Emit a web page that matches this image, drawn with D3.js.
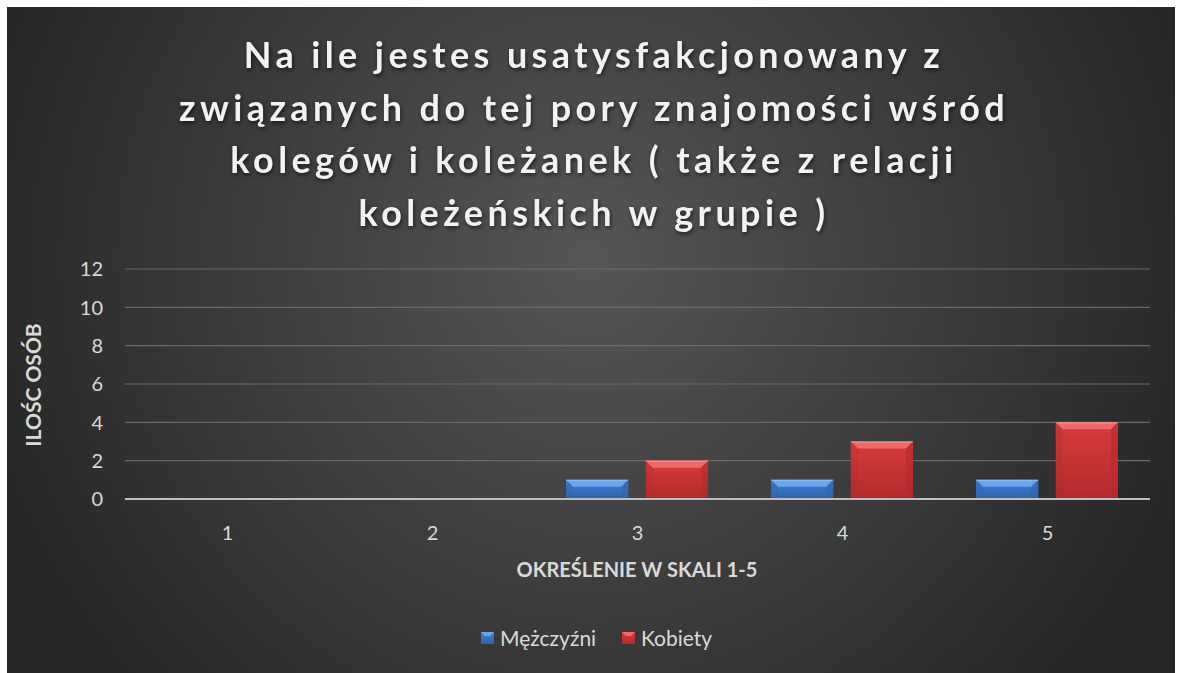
<!DOCTYPE html>
<html>
<head>
<meta charset="utf-8">
<script src="https://cdn.jsdelivr.net/npm/d3@7/dist/d3.min.js"></script>
<style>
  html, body { margin: 0; padding: 0; background: #fff; }
  svg { display: block; }
</style>
</head>
<body>
<div id="chart"></div>
<script>
// ----- Data -----
const categories = ["1", "2", "3", "4", "5"];
const seriesNames = ["Mężczyźni", "Kobiety"];
const men   = [0, 0, 1, 1, 1];
const women = [0, 0, 2, 3, 4];
const yTicks = [0, 2, 4, 6, 8, 10, 12];
const titleLines = [
  "Na ile jestes usatysfakcjonowany z",
  "związanych do tej pory znajomości wśród",
  "kolegów i koleżanek ( także z relacji",
  "koleżeńskich w grupie )"
];

const W = 1182, H = 673;
const margin = { top: 269, left: 125 };
const innerW = 1150 - margin.left;
const innerH = 499 - margin.top;
const FONT = "Lato, 'Open Sans', sans-serif";
const TXT = "#d9d9d9";

const svg = d3.select("#chart").append("svg")
  .attr("width", W).attr("height", H);

const defs = svg.append("defs");

const bg = defs.append("radialGradient")
  .attr("id", "bg").attr("gradientUnits", "userSpaceOnUse")
  .attr("cx", 590).attr("cy", 260).attr("r", 640);
bg.append("stop").attr("offset", "0%").attr("stop-color", "#565656");
bg.append("stop").attr("offset", "100%").attr("stop-color", "#262626");

const palette = {
  "Mężczyźni": { top: "#6aa6ee", base: "#3f80d2", dark: "#2f64ad", edge: "#8fc0f6" },
  "Kobiety":   { top: "#ee6a6a", base: "#d83c3c", dark: "#b22a2a", edge: "#f59a9a" }
};
Object.entries(palette).forEach(([name, c], i) => {
  const gr = defs.append("linearGradient").attr("id", "bar" + i)
    .attr("x1", 0).attr("y1", 0).attr("x2", 0).attr("y2", 1);
  gr.append("stop").attr("offset", "0%").attr("stop-color", c.base);
  gr.append("stop").attr("offset", "100%").attr("stop-color", c.dark);
});

svg.append("rect")
  .attr("x", 7).attr("y", 7).attr("width", 1168).attr("height", 666)
  .attr("fill", "url(#bg)");

// title
const title = svg.append("g")
  .attr("font-family", FONT)
  .attr("font-weight", 700)
  .attr("font-size", 36)
  .attr("letter-spacing", 4.4)
  .attr("fill", "#f2f2f2")
  .attr("text-anchor", "middle")
  .style("filter", "drop-shadow(1px 2px 2px rgba(0,0,0,0.6))");
titleLines.forEach((t, i) => {
  title.append("text").attr("x", 594).attr("y", 68 + i * 52.6).text(t);
});

const g = svg.append("g")
  .attr("transform", `translate(${margin.left},${margin.top})`);

const x = d3.scaleBand().domain(categories).range([0, innerW]);
const x1 = d3.scaleBand().domain(seriesNames).range([31, 173]).paddingInner(0.22);
const y = d3.scaleLinear().domain([0, 12]).range([innerH, 0]);

// gridlines
g.selectAll(".grid").data(yTicks.filter(d => d > 0)).enter()
  .append("line")
  .attr("x1", 0).attr("x2", innerW)
  .attr("y1", d => y(d)).attr("y2", d => y(d))
  .attr("stroke", "#6a6a6a").attr("stroke-width", 1.2);

// y tick labels
g.selectAll(".ytick").data(yTicks).enter()
  .append("text")
  .attr("x", -22).attr("y", d => y(d)).attr("dy", "0.36em")
  .attr("text-anchor", "end")
  .attr("font-family", FONT).attr("font-size", 20)
  .attr("fill", TXT)
  .text(d => d);

// bars
const data = [];
categories.forEach((c, i) => {
  data.push({ cat: c, series: seriesNames[0], value: men[i], idx: 0 });
  data.push({ cat: c, series: seriesNames[1], value: women[i], idx: 1 });
});

const bars = g.selectAll(".bar").data(data.filter(d => d.value > 0)).enter()
  .append("g").attr("class", "bar");

bars.append("rect")
  .attr("x", d => x(d.cat) + x1(d.series))
  .attr("y", d => y(d.value))
  .attr("width", x1.bandwidth())
  .attr("height", d => innerH - y(d.value))
  .attr("fill", d => `url(#bar${d.idx})`);

// bevel top
const bev = 7;
bars.append("polygon")
  .attr("points", d => {
    const x0 = x(d.cat) + x1(d.series), xw = x0 + x1.bandwidth(), yt = y(d.value);
    return [[x0, yt], [xw, yt], [xw - bev, yt + bev], [x0 + bev, yt + bev]].join(" ");
  })
  .attr("fill", d => palette[d.series].top);
bars.append("line")
  .attr("x1", d => x(d.cat) + x1(d.series))
  .attr("x2", d => x(d.cat) + x1(d.series) + x1.bandwidth())
  .attr("y1", d => y(d.value) + 0.5).attr("y2", d => y(d.value) + 0.5)
  .attr("stroke", d => palette[d.series].edge).attr("stroke-width", 1);
// side bevels
bars.append("polygon")
  .attr("points", d => {
    const x0 = x(d.cat) + x1(d.series), yt = y(d.value);
    return [[x0, yt], [x0 + bev, yt + bev], [x0 + bev, innerH], [x0, innerH]].join(" ");
  })
  .attr("fill", d => palette[d.series].dark).attr("opacity", 0.3);
bars.append("polygon")
  .attr("points", d => {
    const xw = x(d.cat) + x1(d.series) + x1.bandwidth(), yt = y(d.value);
    return [[xw, yt], [xw - bev, yt + bev], [xw - bev, innerH], [xw, innerH]].join(" ");
  })
  .attr("fill", d => palette[d.series].dark).attr("opacity", 0.55);

// baseline
g.append("line")
  .attr("x1", 0).attr("x2", innerW)
  .attr("y1", innerH).attr("y2", innerH)
  .attr("stroke", "#bfbfbf").attr("stroke-width", 2);

// x tick labels
g.selectAll(".xtick").data(categories).enter()
  .append("text")
  .attr("x", d => x(d) + x.bandwidth() / 2)
  .attr("y", innerH + 41)
  .attr("text-anchor", "middle")
  .attr("font-family", FONT).attr("font-size", 20)
  .attr("fill", TXT)
  .text(d => d);

// axis titles
svg.append("text")
  .attr("x", 637).attr("y", 577)
  .attr("text-anchor", "middle")
  .attr("font-family", FONT).attr("font-weight", 700)
  .attr("font-size", 20).attr("fill", TXT)
  .text("OKREŚLENIE W SKALI 1-5");

svg.append("text")
  .attr("transform", "translate(41,385) rotate(-90)")
  .attr("text-anchor", "middle")
  .attr("font-family", FONT).attr("font-weight", 700)
  .attr("font-size", 21).attr("fill", TXT)
  .text("ILOŚC OSÓB");

// legend
const legend = svg.append("g").attr("transform", "translate(0,638)");
const legendX = [481, 622];
seriesNames.forEach((s, i) => {
  const lg = legend.append("g").attr("transform", `translate(${legendX[i]},0)`);
  lg.append("rect").attr("x", 0).attr("y", -6).attr("width", 13).attr("height", 12)
    .attr("fill", `url(#bar${i})`);
  lg.append("polygon").attr("points", "0,-6 13,-6 9,-2 4,-2")
    .attr("fill", palette[s].top);
  lg.append("text").attr("x", 19).attr("y", 0).attr("dy", "0.36em")
    .attr("font-family", FONT).attr("font-size", 21)
    .attr("fill", TXT).text(s);
});
</script>
</body>
</html>
